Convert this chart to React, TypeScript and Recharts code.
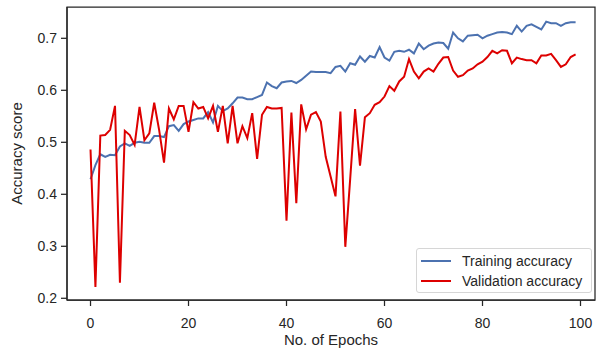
import { LineChart, Line, XAxis, YAxis, Legend, Label, ReferenceArea } from 'recharts';

const trainAcc = [
  0.429, 0.456, 0.477, 0.472, 0.476, 0.475, 0.492, 0.498, 0.493, 0.499,
  0.501, 0.499, 0.499, 0.512, 0.512, 0.51, 0.531, 0.533, 0.522, 0.535,
  0.54, 0.543, 0.546, 0.546, 0.558, 0.538, 0.57, 0.56, 0.565, 0.575,
  0.586, 0.586, 0.583, 0.583, 0.587, 0.591, 0.615, 0.608, 0.604, 0.615,
  0.617, 0.618, 0.614, 0.62, 0.628, 0.636, 0.635, 0.635, 0.635, 0.633,
  0.645, 0.647, 0.636, 0.652, 0.649, 0.665, 0.655, 0.666, 0.663, 0.683,
  0.663, 0.657, 0.674, 0.676, 0.674, 0.678, 0.671, 0.69, 0.679, 0.686,
  0.69, 0.692, 0.691, 0.68, 0.711, 0.7, 0.694, 0.705, 0.706, 0.707,
  0.7, 0.705, 0.708, 0.711, 0.712, 0.711, 0.708, 0.724, 0.713, 0.724,
  0.727, 0.722, 0.717, 0.732, 0.729, 0.729, 0.724, 0.729, 0.731, 0.731,
];

const valAcc = [
  0.486, 0.222, 0.513, 0.514, 0.524, 0.57, 0.23, 0.522, 0.514, 0.495,
  0.568, 0.504, 0.517, 0.576, 0.524, 0.461, 0.565, 0.544, 0.57, 0.57,
  0.52, 0.577, 0.565, 0.568, 0.546, 0.57, 0.52, 0.57, 0.498, 0.57,
  0.498, 0.531, 0.508, 0.556, 0.468, 0.553, 0.568, 0.565, 0.565, 0.566,
  0.349, 0.557, 0.383, 0.573, 0.525, 0.553, 0.558, 0.54, 0.472, 0.434,
  0.396, 0.559, 0.299, 0.43, 0.564, 0.455, 0.548, 0.556, 0.572, 0.577,
  0.588, 0.608, 0.599, 0.617, 0.626, 0.66, 0.636, 0.623, 0.636, 0.642,
  0.636, 0.651, 0.663, 0.664, 0.638, 0.626, 0.629, 0.638, 0.642, 0.65,
  0.655, 0.664, 0.676, 0.671, 0.677, 0.676, 0.652, 0.663, 0.66, 0.658,
  0.658, 0.652, 0.667, 0.667, 0.67, 0.658, 0.645, 0.65, 0.664, 0.669,
];

const xTicks = [0, 20, 40, 60, 80, 100];
const yTicks = [0.2, 0.3, 0.4, 0.5, 0.6, 0.7];

const TRAIN_COLOR = '#4c72b0';
const VAL_COLOR = '#dd0000';
const INK = '#262626';
const FONT = '"Liberation Sans", Arial, sans-serif';

const X_DOMAIN: [number, number] = [-4.8, 102.96];
const Y_DOMAIN: [number, number] = [0.1967, 0.7602];

const data = trainAcc.map((v, i) => ({ epoch: i, train: v, val: valAcc[i] }));

const legendItems = [
  { label: 'Training accuracy', color: TRAIN_COLOR },
  { label: 'Validation accuracy', color: VAL_COLOR },
];

function LegendBox() {
  return (
    <div
      style={{
        width: 176,
        height: 45,
        boxSizing: 'border-box',
        border: '1px solid #d6d6d6',
        borderRadius: 3,
        background: 'rgba(255,255,255,0.8)',
        padding: '2px 0 0 4px',
        fontFamily: FONT,
        fontSize: 14,
        color: INK,
      }}
    >
      {legendItems.map(item => (
        <div key={item.label} style={{ display: 'flex', alignItems: 'center', height: 20 }}>
          <span style={{ display: 'inline-block', width: 30, height: 2, background: item.color, marginRight: 11 }} />
          <span>{item.label}</span>
        </div>
      ))}
    </div>
  );
}

export default function App() {
  const tickStyle = { fill: INK, fontSize: 14, fontFamily: FONT };
  return (
    <div style={{ position: 'absolute', left: 0, top: 0, background: '#fff' }}>
      <LineChart width={600} height={348} data={data} margin={{ top: 7, right: 5, left: 0, bottom: 0 }}>
        <XAxis
          dataKey="epoch"
          type="number"
          domain={X_DOMAIN}
          allowDataOverflow
          ticks={xTicks}
          height={48}
          tick={tickStyle}
          tickSize={6}
          tickMargin={12}
          stroke={INK}
          strokeWidth={1.25}
        >
          <Label
            value="No. of Epochs"
            position="insideBottom"
            offset={3}
            style={{ fill: INK, fontSize: 15, fontFamily: FONT }}
          />
        </XAxis>
        <YAxis
          type="number"
          domain={Y_DOMAIN}
          allowDataOverflow
          ticks={yTicks}
          width={67}
          tick={tickStyle}
          tickFormatter={(v: number) => v.toFixed(1)}
          tickSize={6}
          tickMargin={4}
          stroke={INK}
          strokeWidth={1.25}
        >
          <Label
            value="Accuracy score"
            angle={-90}
            position="insideLeft"
            offset={17}
            style={{ fill: INK, fontSize: 15, fontFamily: FONT, textAnchor: 'middle' }}
          />
        </YAxis>
        <ReferenceArea
          x1={X_DOMAIN[0]}
          x2={X_DOMAIN[1]}
          y1={Y_DOMAIN[0]}
          y2={Y_DOMAIN[1]}
          fill="none"
          fillOpacity={0}
          stroke={INK}
          strokeWidth={1.25}
          ifOverflow="visible"
        />
        <Line
          dataKey="train"
          name="Training accuracy"
          stroke={TRAIN_COLOR}
          strokeWidth={2}
          dot={false}
          type="linear"
          isAnimationActive={false}
        />
        <Line
          dataKey="val"
          name="Validation accuracy"
          stroke={VAL_COLOR}
          strokeWidth={2}
          dot={false}
          type="linear"
          isAnimationActive={false}
        />
        <Legend
          layout="vertical"
          align="center"
          verticalAlign="middle"
          content={() => <LegendBox />}
          wrapperStyle={{ position: 'absolute', left: 416, top: 248, width: 176, height: 45 }}
        />
      </LineChart>
    </div>
  );
}
